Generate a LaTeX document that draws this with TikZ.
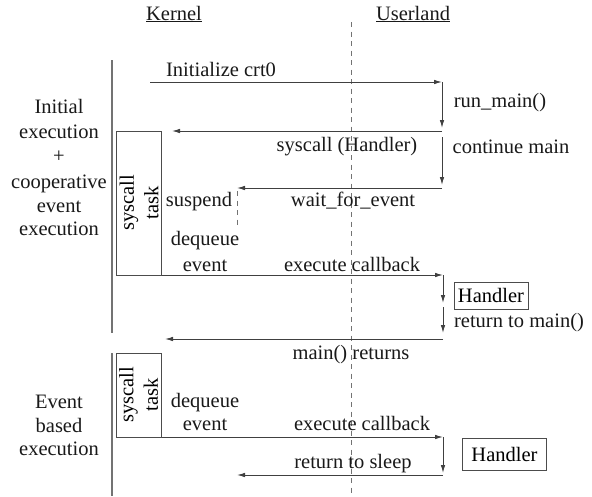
\documentclass[tikz,border=0pt]{standalone}
\usepackage{fontspec}
\setmainfont{Liberation Serif}[Ligatures=TeX]
\newfontfamily\timesfont{Liberation Serif}
\usetikzlibrary{arrows.meta}
\begin{document}
\begin{tikzpicture}[x=1pt,y=-1pt,
  font=\timesfont\fontsize{20.5}{24.5}\selectfont,
  lbl/.style={inner sep=0pt, anchor=base, text=black!90},
  ln/.style={draw=black!75, line width=0.9pt},
  arr/.style={ln, -{Latex[length=8pt,width=4.5pt]}},
  lifeline/.style={draw=black!55, line width=0.9pt, dash pattern=on 5pt off 4.5pt},
  side/.style={draw=black!55, line width=1.3pt},
  sysbox/.style={draw=black!70, line width=1pt, rotate=90, align=center, inner sep=0pt},
  hbox/.style={draw=black!70, line width=1pt, inner sep=0pt}]
\useasboundingbox (0,0) rectangle (592,496);

% headers
\node[lbl] (kern) at (174,20) {\underline{Kernel}};
\node[lbl] (user) at (413,20) {\underline{Userland}};

% lifeline and side bars
\coordinate (llTop) at (351,22);
\coordinate (llBot) at (351,496);
\draw[lifeline] (llTop) -- (llBot);
\coordinate (s1Top) at (112,60);
\coordinate (s1Bot) at (112,333);
\coordinate (s2Top) at (112,353);
\coordinate (s2Bot) at (112,496);
\draw[side] (s1Top) -- (s1Bot);
\draw[side] (s2Top) -- (s2Bot);

% left labels
\node[lbl] (l1) at (59,113) {Initial};
\node[lbl] (l2) at (59,138) {execution};
\node[lbl] (l3) at (59,162) {+};
\node[lbl] (l4) at (59,188) {cooperative};
\node[lbl] (l5) at (59,212) {event};
\node[lbl] (l6) at (59,235) {execution};
\node[lbl] (m1) at (59,408) {Event};
\node[lbl] (m2) at (59,432) {based};
\node[lbl] (m3) at (59,455) {execution};

% syscall task boxes
\node[sysbox, minimum width=144pt, minimum height=45pt] (sc1) at (139,203) {syscall\\task};
\node[sysbox, minimum width=84pt, minimum height=45pt] (sc2) at (138.5,395) {syscall\\task};

% handler boxes
\node[hbox, minimum width=74pt, minimum height=27pt] (hd1) at (491,295.5) {Handler};
\node[hbox, minimum width=84pt, minimum height=32pt] (hd2) at (504.5,454) {Handler};

% coordinates
\coordinate (p1) at (150,82);
\coordinate (p2) at (442,82);
\coordinate (p3) at (442,128);
\coordinate (p4) at (442,131);
\coordinate (p5) at (172,131);
\coordinate (p6) at (442,137);
\coordinate (p7) at (442,185);
\coordinate (p8) at (442,188);
\coordinate (p9) at (237,188);
\coordinate (q1) at (237,191);
\coordinate (q2) at (237,228);
\coordinate (p10) at (162,275);
\coordinate (p11) at (443,275);
\coordinate (p12) at (443,303);
\coordinate (p13) at (443,307);
\coordinate (p14) at (443,333);
\coordinate (p15) at (443,339);
\coordinate (p16) at (165,339);
\coordinate (r1) at (162,437);
\coordinate (r2) at (443,437);
\coordinate (r3) at (443,473);
\coordinate (r4) at (443,475);
\coordinate (r5) at (237,475);

% connectors
\draw[arr] (p1) -- (p2);
\draw[arr] (p2) -- (p3);
\draw[arr] (p4) -- (p5);
\draw[arr] (p6) -- (p7);
\draw[arr] (p8) -- (p9);
\draw[lifeline] (q1) -- (q2);
\draw[arr] (p10) -- (p11);
\draw[arr] (p11) -- (p12);
\draw[arr] (p13) -- (p14);
\draw[arr] (p15) -- (p16);
\draw[arr] (r1) -- (r2);
\draw[arr] (r2) -- (r3);
\draw[arr] (r4) -- (r5);

% message labels
\node[lbl] (t1) at (221,76) {Initialize crt0};
\node[lbl] (t2) at (500,107) {run\_main()};
\node[lbl] (t3) at (347,151) {syscall (Handler)};
\node[lbl] (t4) at (511,153) {continue main};
\node[lbl] (t5) at (199,206) {suspend};
\node[lbl] (t6) at (353,206) {wait\_for\_event};
\node[lbl] (t7) at (205,245) {dequeue};
\node[lbl] (t8) at (205,271) {event};
\node[lbl] (t9) at (352,271) {execute callback};
\node[lbl] (t10) at (519,327) {return to main()};
\node[lbl] (t11) at (351,359) {main() returns};
\node[lbl] (t12) at (205,407) {dequeue};
\node[lbl] (t13) at (205,430) {event};
\node[lbl] (t14) at (362,430) {execute callback};
\node[lbl] (t15) at (353,468) {return to sleep};
\end{tikzpicture}
\end{document}
